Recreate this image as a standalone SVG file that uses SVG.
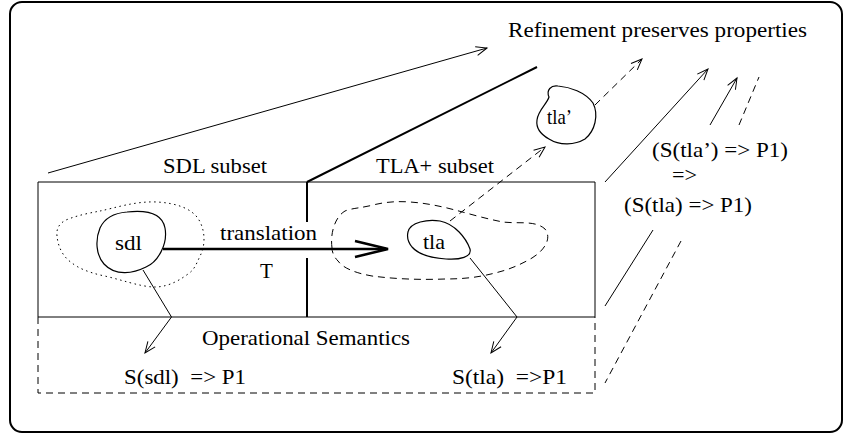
<svg xmlns="http://www.w3.org/2000/svg" width="845" height="435" viewBox="0 0 845 435">
<style>
  text { font-family: "Liberation Serif", "Times New Roman", serif; font-size: 21px; fill: #000; }
  .ln { fill: none; stroke: #000; stroke-width: 1; }
  .thick { fill: none; stroke: #000; stroke-width: 2; }
  .dash { fill: none; stroke: #000; stroke-width: 1; stroke-dasharray: 7 5; }
  .dot { fill: none; stroke: #000; stroke-width: 1; stroke-dasharray: 1.5 3.5; }
  .blob { fill: none; stroke: #000; stroke-width: 1.2; }
</style>
<defs>
  <marker id="arr" markerUnits="userSpaceOnUse" markerWidth="14" markerHeight="12" refX="11" refY="4.5" orient="auto" overflow="visible">
    <path d="M0,0 L11,4.5 L0,9" fill="none" stroke="#000" stroke-width="1" stroke-dasharray="none"/>
  </marker>
</defs>

<rect id="frame" x="10" y="2" width="832" height="430" rx="12" ry="12" fill="none" stroke="#000" stroke-width="2"/>

<g id="sdl-subset">
  <path class="ln" d="M307,182 H38 V317 H307"/>
  <text x="163" y="173" textLength="104" lengthAdjust="spacingAndGlyphs">SDL subset</text>
</g>
<g id="tla-subset">
  <path class="ln" d="M307,182 H595 V317 H307"/>
  <text x="376" y="173" textLength="118" lengthAdjust="spacingAndGlyphs">TLA+ subset</text>
</g>
<g id="divider">
  <path class="thick" d="M307,182 V222 M307,258 V317"/>
</g>
<g id="operational-semantics">
  <path class="dash" d="M38,317 V393 H595 V317"/>
  <text x="202" y="345" textLength="208" lengthAdjust="spacingAndGlyphs">Operational Semantics</text>
  <text x="124" y="384" textLength="122" lengthAdjust="spacingAndGlyphs" xml:space="preserve">S(sdl)  =&gt; P1</text>
  <text x="452" y="384" textLength="115" lengthAdjust="spacingAndGlyphs" xml:space="preserve">S(tla)  =&gt;P1</text>
</g>
<g id="sdl-region">
  <path class="dot" d="M57,236 C56,228 60,223 66,220 C78,215 90,213 100,211 C115,208 135,201 157,202 C175,203 192,208 199,220 C206,232 205,247 200,256 C196,265 194,270 188,274 C176,283 165,287 155,287 C140,287 120,279 100,275 C88,272 78,268 72,263 C63,257 58,247 57,236 Z"/>
</g>
<g id="sdl">
  <path class="blob" d="M127,212 C145,210 162,212 165,228 C168,244 158,262 146,267 C134,273 116,277 104,264 C96,255 95,240 100,228 C105,217 115,213 127,212 Z"/>
  <text x="115" y="250" textLength="27" lengthAdjust="spacingAndGlyphs">sdl</text>
</g>
<g id="tla-region">
  <path class="dash" d="M332,248 C330,233 335,217 345,211 C352,208 362,208 373,205 C385,202 397,201 410,202 C425,203 440,206 455,210 C470,214 487,219 503,222 C518,224 535,220 545,229 C552,238 545,250 532,258 C520,265 508,270 495,273 C480,277 465,279 445,279 C420,280 395,279 372,276 C355,273 343,268 338,261 C334,257 332,252 332,248 Z"/>
</g>
<g id="tla">
  <path class="blob" d="M408,232 C410,222 428,219 440,221 C455,224 466,238 470,249 C472,257 460,260 446,259 C430,258 418,254 412,247 C408,242 407,236 408,232 Z"/>
  <text x="423" y="249" textLength="22" lengthAdjust="spacingAndGlyphs">tla</text>
</g>
<g id="tla-prime">
  <path class="blob" d="M537,120 C538,110 547,104 549,97 C546,90 551,85 558,86 C570,87 585,92 593,103 C599,115 595,131 585,139 C575,145 560,146 549,139 C540,134 536,127 537,120 Z"/>
  <text x="547" y="124" textLength="25" lengthAdjust="spacingAndGlyphs">tla’</text>
</g>
<g id="refinement">
  <text x="508" y="37" textLength="299" lengthAdjust="spacingAndGlyphs">Refinement preserves properties</text>
</g>
<g id="implication">
  <text x="652" y="157" textLength="136" lengthAdjust="spacingAndGlyphs">(S(tla’) =&gt; P1)</text>
  <text x="672" y="182" textLength="25" lengthAdjust="spacingAndGlyphs">=&gt;</text>
  <text x="624" y="212" textLength="128" lengthAdjust="spacingAndGlyphs">(S(tla) =&gt; P1)</text>
</g>

<g id="connectors">
  <path class="ln" d="M48,173 L487,48" marker-end="url(#arr)"/>
  <path class="thick" d="M307,182 L537,67"/>
  <g id="translation">
    <path d="M163,249 H386" fill="none" stroke="#000" stroke-width="2.5"/>
    <path d="M355,241 L388,249 L355,257" fill="none" stroke="#000" stroke-width="2.5"/>
    <text x="220" y="240" textLength="97" lengthAdjust="spacingAndGlyphs">translation</text>
    <text x="260" y="278">T</text>
  </g>
  <path class="ln" d="M143,270 L171.5,317 L145,353" marker-end="url(#arr)"/>
  <path class="ln" d="M470,258 L517,317 L491,353" marker-end="url(#arr)"/>
  <path class="dash" d="M450,221 L545,147" marker-end="url(#arr)"/>
  <path class="dash" d="M595,105 L642,59" marker-end="url(#arr)"/>
  <path class="ln" d="M605,182 L708,69" marker-end="url(#arr)"/>
  <path class="ln" d="M710,125 L737,78" marker-end="url(#arr)"/>
  <path class="dash" d="M739,125 L759,77"/>
  <path class="ln" d="M653,230 L605,306"/>
  <path class="dash" d="M681,241 L605,383"/>
</g>
</svg>
